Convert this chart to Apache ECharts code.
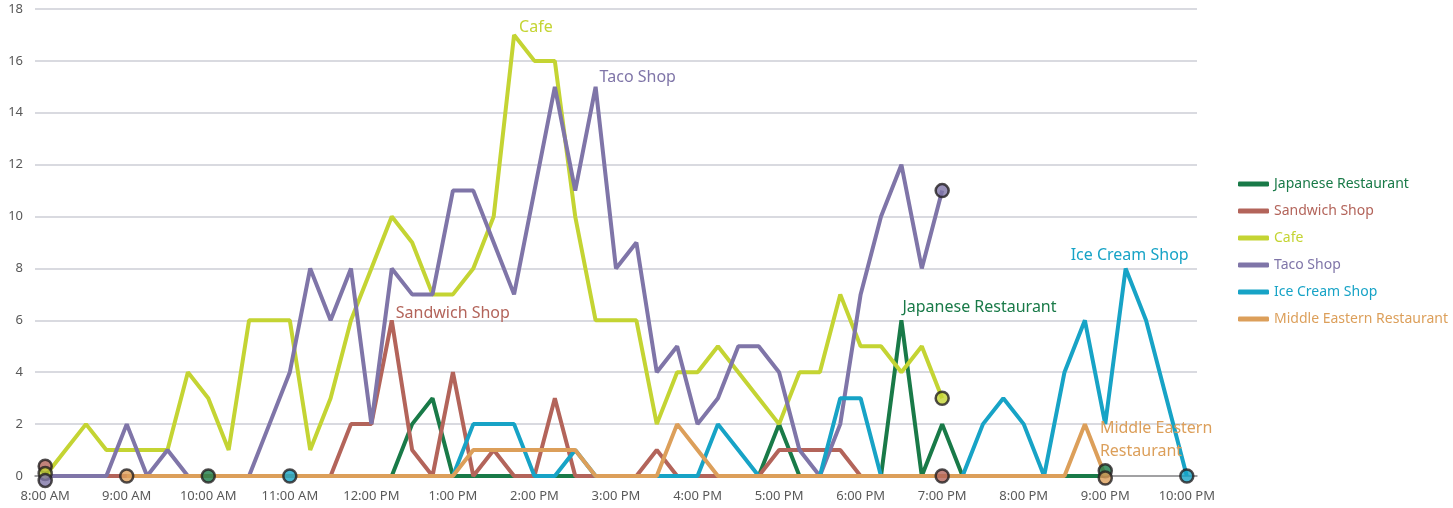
<!DOCTYPE html>
<html>
<head>
<meta charset="utf-8">
<script src="https://cdn.jsdelivr.net/npm/echarts@6/dist/echarts.min.js"></script>
<style>
  html, body { margin: 0; padding: 0; background: #fff; }
  #chart { width: 1453px; height: 508px; }
</style>
</head>
<body>
<div id="chart"></div>
<script>
  // 15-minute slots from 8:00 AM to 10:00 PM
  const times = []
  for (let h = 8; h <= 22; h++) {
    for (let m = 0; m < 60; m += 15) {
      if (h === 22 && m > 0) break
      const hh = h > 12 ? h - 12 : h
      const ap = h >= 12 ? 'PM' : 'AM'
      times.push(hh + ':' + String(m).padStart(2, '0') + ' ' + ap)
    }
  }

  const names = ['Japanese Restaurant', 'Sandwich Shop', 'Cafe', 'Taco Shop', 'Ice Cream Shop', 'Middle Eastern Restaurant']
  const colors = ['#197a48', '#b3645a', '#c4d433', '#7f75a8', '#17a3c6', '#dc9f5a']

  // values by hour, four slots per row
  const japanese = [
    null, null, null, null,
    null, null, null, null,
    0, 0, 0, 0,
    0, 0, 0, 0,
    0, 0, 2, 3,
    0, 0, 0, 0,
    0, 0, 0, 0,
    0, 0, 0, 0,
    0, 0, 0, 0,
    2, 0, 0, 0,
    0, 0, 6, 0,
    2, 0, 0, 0,
    0, 0, 0, 0,
    0, null, null, null,
    null
  ]
  const sandwich = [
    0, 0, 0, 0,
    0, 0, 0, 0,
    0, 0, 0, 0,
    0, 0, 0, 2,
    2, 6, 1, 0,
    4, 0, 1, 0,
    0, 3, 0, 0,
    0, 0, 1, 0,
    0, 0, 0, 0,
    1, 1, 1, 1,
    0, 0, 0, 0,
    0, null, null, null,
    null, null, null, null,
    null, null, null, null,
    null
  ]
  const cafe = [
    0, 1, 2, 1,
    1, 1, 1, 4,
    3, 1, 6, 6,
    6, 1, 3, 6,
    8, 10, 9, 7,
    7, 8, 10, 17,
    16, 16, 10, 6,
    6, 6, 2, 4,
    4, 5, 4, 3,
    2, 4, 4, 7,
    5, 5, 4, 5,
    3, null, null, null,
    null, null, null, null,
    null, null, null, null,
    null
  ]
  const taco = [
    0, 0, 0, 0,
    2, 0, 1, 0,
    0, 0, 0, 2,
    4, 8, 6, 8,
    2, 8, 7, 7,
    11, 11, 9, 7,
    11, 15, 11, 15,
    8, 9, 4, 5,
    2, 3, 5, 5,
    4, 1, 0, 2,
    7, 10, 12, 8,
    11, null, null, null,
    null, null, null, null,
    null, null, null, null,
    null
  ]
  const iceCream = [
    null, null, null, null,
    null, null, null, null,
    null, null, null, null,
    0, 0, 0, 0,
    0, 0, 0, 0,
    0, 2, 2, 2,
    0, 0, 1, 0,
    0, 0, 0, 0,
    0, 2, 1, 0,
    0, 0, 0, 3,
    3, 0, 0, 0,
    0, 0, 2, 3,
    2, 0, 4, 6,
    2, 8, 6, 3,
    0
  ]
  const middleEastern = [
    null, null, null, null,
    0, 0, 0, 0,
    0, 0, 0, 0,
    0, 0, 0, 0,
    0, 0, 0, 0,
    0, 1, 1, 1,
    1, 1, 1, 0,
    0, 0, 0, 2,
    1, 0, 0, 0,
    0, 0, 0, 0,
    0, 0, 0, 0,
    0, 0, 0, 0,
    0, 0, 0, 2,
    0, null, null, null,
    null
  ]
  const seriesValues = [japanese, sandwich, cafe, taco, iceCream, middleEastern]

  // start / end dots: [slot index, value]
  const japaneseEnds = [[8, 0], [52, 0.2]]
  const sandwichEnds = [[0, 0.38], [44, 0]]
  const cafeEnds = [[0, 0.1], [44, 3]]
  const tacoEnds = [[0, -0.17], [44, 11]]
  const iceCreamEnds = [[12, 0], [56, 0]]
  const middleEasternEnds = [[4, 0], [52, -0.08]]
  const seriesEnds = [japaneseEnds, sandwichEnds, cafeEnds, tacoEnds, iceCreamEnds, middleEasternEnds]

  // where each series gets its name label
  const labelSlots = [42, 17, 23, 27, 53, 51]
  const labelText = ['Japanese Restaurant', 'Sandwich Shop', 'Cafe', 'Taco Shop', 'Ice Cream Shop', 'Middle Eastern\nRestaurant']
  const labelPos = [
    { position: 'right', offset: [-4, -13] },
    { position: 'right', offset: [-1, -7] },
    { position: 'right', offset: [0, -8] },
    { position: 'right', offset: [-1, -9] },
    { position: 'top', offset: [4, 0] },
    { position: 'right', offset: [10, 16], lineHeight: 23 }
  ]

  const font = 'Noto Sans'
  const chart = echarts.init(document.getElementById('chart'))

  const lineSeries = names.map((name, k) => ({
    name: name,
    type: 'line',
    symbol: 'circle',
    symbolSize: 0,
    showSymbol: true,
    showAllSymbol: true,
    connectNulls: false,
    lineStyle: { color: colors[k], width: 4 },
    itemStyle: { color: colors[k] },
    z: 2 + k,
    data: seriesValues[k].map((v, i) => i === labelSlots[k] ? {
      value: v,
      label: Object.assign({
        show: true,
        formatter: labelText[k],
        color: colors[k],
        fontSize: 16,
        fontFamily: font
      }, labelPos[k])
    } : v)
  }))

  const dotSeries = names.map((name, k) => ({
    name: name + ' ends',
    type: 'scatter',
    clip: false,
    symbol: 'circle',
    symbolSize: 13,
    itemStyle: { color: colors[k], borderColor: '#231f20', borderWidth: 2.5 },
    z: 10 + k,
    data: seriesEnds[k]
  }))

  chart.setOption({
    animation: false,
    grid: { left: 35, right: 256, top: 9, bottom: 32 },
    legend: {
      orient: 'vertical',
      left: 1238,
      top: 177,
      padding: 0,
      itemWidth: 31,
      itemHeight: 5,
      itemGap: 13,
      icon: 'roundRect',
      textStyle: { fontFamily: font, fontSize: 14 },
      data: names.map((n, k) => ({ name: n, textStyle: { color: colors[k] } }))
    },
    xAxis: {
      type: 'category',
      data: times,
      boundaryGap: true,
      axisTick: { show: false },
      axisLine: { lineStyle: { color: '#8f8f8f', width: 1.5 } },
      axisLabel: { interval: 3, color: '#595959', fontSize: 13, fontFamily: font, margin: 14 }
    },
    yAxis: {
      type: 'value',
      min: 0,
      max: 18,
      interval: 2,
      axisLine: { show: false },
      axisTick: { show: false },
      axisLabel: { color: '#595959', fontSize: 13, fontFamily: font, margin: 12 },
      splitLine: { lineStyle: { color: '#d9dae0', width: 2 } }
    },
    series: lineSeries.concat(dotSeries)
  })
</script>
</body>
</html>
